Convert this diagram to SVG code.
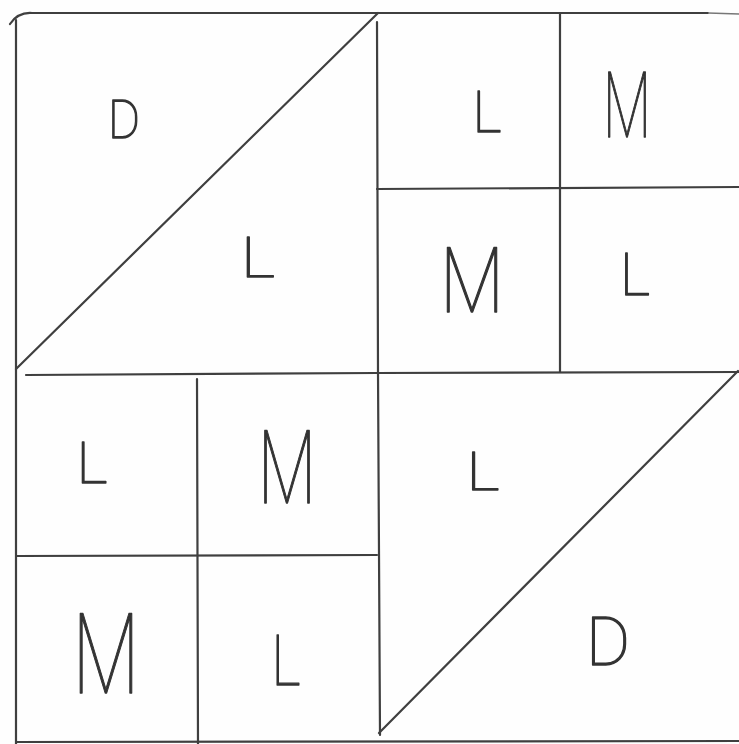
<svg xmlns="http://www.w3.org/2000/svg" width="739" height="744" viewBox="0 0 739 744">
<style>
  .ln { fill: none; stroke: #3f3f3f; stroke-width: 2.2; stroke-linecap: round; }
  .lt { fill: none; stroke: #777; stroke-width: 1.6; }
  .t { font-family: Roboto, "Liberation Sans", sans-serif; font-weight: 100; fill: #333; stroke: #333; stroke-width: 1.3; stroke-linejoin: round; text-anchor: middle; }
</style>
<rect width="739" height="744" fill="#fefefe"/>
<g id="connectors">
  <path class="ln" d="M 10 24 Q 18 12 32 13 L 708 13"/>
  <path class="lt" d="M 708 13 L 739 14"/>
  <path class="ln" d="M 16 20 L 16 744"/>
  <path class="ln" d="M 16 742 L 739 741"/>
  <path class="ln" d="M 16 369 L 378 13"/>
  <path class="ln" d="M 377 22 L 378 372 L 380 735"/>
  <path class="ln" d="M 26 375 L 377 373 L 739 372"/>
  <path class="ln" d="M 560 13 L 560 372"/>
  <path class="ln" d="M 377 189 L 739 187"/>
  <path class="ln" d="M 197 379 L 198 744"/>
  <path class="ln" d="M 17 556 L 377 555"/>
  <path class="ln" d="M 379 733 L 738 371"/>
</g>
<g id="patch-tl-d"><text class="t" x="124" y="138" font-size="53" textLength="32" lengthAdjust="spacingAndGlyphs">D</text></g>
<g id="patch-tl-l"><text class="t" x="258" y="277" font-size="56" textLength="34" lengthAdjust="spacingAndGlyphs">L</text></g>
<g id="patch-tr-1"><text class="t" x="487" y="132" font-size="58" textLength="29" lengthAdjust="spacingAndGlyphs">L</text></g>
<g id="patch-tr-2"><text class="t" x="627" y="137" font-size="90" textLength="48" lengthAdjust="spacingAndGlyphs">M</text></g>
<g id="patch-tr-3"><text class="t" x="472" y="312" font-size="91" textLength="64" lengthAdjust="spacingAndGlyphs">M</text></g>
<g id="patch-tr-4"><text class="t" x="635" y="295" font-size="59" textLength="30" lengthAdjust="spacingAndGlyphs">L</text></g>
<g id="patch-bl-1"><text class="t" x="92" y="483" font-size="58" textLength="31" lengthAdjust="spacingAndGlyphs">L</text></g>
<g id="patch-bl-2"><text class="t" x="287" y="503" font-size="102" textLength="58" lengthAdjust="spacingAndGlyphs">M</text></g>
<g id="patch-bl-3"><text class="t" x="106" y="693" font-size="112" textLength="67" lengthAdjust="spacingAndGlyphs">M</text></g>
<g id="patch-bl-4"><text class="t" x="286" y="685" font-size="70" textLength="29" lengthAdjust="spacingAndGlyphs">L</text></g>
<g id="patch-br-l"><text class="t" x="483" y="490" font-size="53" textLength="33" lengthAdjust="spacingAndGlyphs">L</text></g>
<g id="patch-br-d"><text class="t" x="608" y="665" font-size="67" textLength="44" lengthAdjust="spacingAndGlyphs">D</text></g>
</svg>
